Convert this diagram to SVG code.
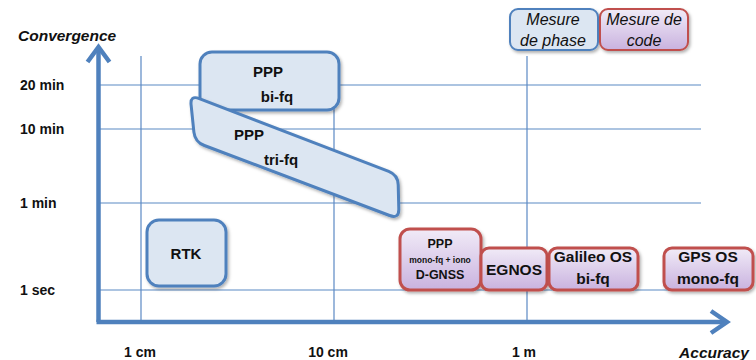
<svg xmlns="http://www.w3.org/2000/svg" width="756" height="360" viewBox="0 0 756 360">
<defs>
<linearGradient id="purp" x1="0" y1="0" x2="0" y2="1">
<stop offset="0" stop-color="#f1ebf7"/>
<stop offset="1" stop-color="#c9b2df"/>
</linearGradient>
<filter id="sh" x="-10%" y="-10%" width="130%" height="130%">
<feDropShadow dx="1.5" dy="2" stdDeviation="1.5" flood-color="#000" flood-opacity="0.3"/>
</filter>
</defs>
<style>
.grid{stroke:#5b89c4;stroke-width:1.2;fill:none}
.axis{stroke:#4f81bd;stroke-width:4.5;fill:none;stroke-linecap:butt}
.head{stroke:#4f81bd;stroke-width:4.5;fill:none;stroke-linejoin:miter}
.lbl{font-family:"Liberation Sans",Arial,sans-serif;font-weight:bold;font-size:14px;fill:#111}
.ttl{font-family:"Liberation Sans",Arial,sans-serif;font-weight:bold;font-style:italic;font-size:15.5px;fill:#111}
.blue{fill:#dce6f2;stroke:#4f81bd;stroke-width:3;filter:url(#sh)}
.red{fill:url(#purp);stroke:#c0504d;stroke-width:3;filter:url(#sh)}
.t{font-family:"Liberation Sans",Arial,sans-serif;font-weight:bold;font-size:15px;fill:#111;text-anchor:middle}
.leg{font-family:"Liberation Sans",Arial,sans-serif;font-style:italic;font-size:16px;fill:#111;text-anchor:middle}
</style>
<rect width="756" height="360" fill="#fff"/>
<g id="grid">
<line class="grid" x1="100" y1="85" x2="701" y2="85"/>
<line class="grid" x1="100" y1="129" x2="701" y2="129"/>
<line class="grid" x1="100" y1="203" x2="701" y2="203"/>
<line class="grid" x1="100" y1="290" x2="701" y2="290"/>
<line class="grid" x1="141" y1="56" x2="141" y2="320"/>
<line class="grid" x1="334" y1="56" x2="334" y2="320"/>
<line class="grid" x1="527" y1="56" x2="527" y2="320"/>
</g>
<g id="connectors">
<path class="axis" d="M98.5,322 V48"/>
<path class="head" d="M87.5,62 L98.5,47 L109.5,62"/>
<path class="axis" d="M96.5,322 H726"/>
<path class="head" d="M711,311 L727,322 L711,333"/>
</g>
<g id="labels">
<text class="ttl" x="18" y="41">Convergence</text>
<text class="lbl" x="20" y="90">20 min</text>
<text class="lbl" x="20" y="134">10 min</text>
<text class="lbl" x="20" y="208">1 min</text>
<text class="lbl" x="20" y="295">1 sec</text>
<text class="lbl" x="140" y="357" text-anchor="middle">1 cm</text>
<text class="lbl" x="328" y="357" text-anchor="middle">10 cm</text>
<text class="lbl" x="524" y="357" text-anchor="middle">1 m</text>
<text class="ttl" x="714" y="358" text-anchor="middle">Accuracy</text>
</g>
<g id="ppp-bifq">
<rect class="blue" x="200" y="52" width="139" height="58" rx="12"/>
<text class="t" x="268" y="77">PPP</text>
<text class="t" x="277" y="102">bi-fq</text>
</g>
<g id="ppp-trifq">
<path class="blue" d="M199.3,98.6 L388.7,171.4 Q398,175 398.2,185 L398.8,209 Q399,219 389.6,215.5 L204.4,145.5 Q195,142 193.9,132.1 L191.1,104.9 Q190,95 199.3,98.6 Z"/>
<text class="t" x="249" y="140">PPP</text>
<text class="t" x="281" y="165">tri-fq</text>
</g>
<g id="rtk">
<rect class="blue" x="147" y="220" width="79" height="66" rx="12"/>
<text class="t" x="186" y="259">RTK</text>
</g>
<g id="ppp-mono">
<rect class="red" x="400" y="229" width="81" height="61" rx="10"/>
<text class="t" x="440" y="248" style="font-size:12.5px">PPP</text>
<text class="t" x="440" y="263" style="font-size:8.5px">mono-fq + iono</text>
<text class="t" x="440" y="279" style="font-size:12.5px">D-GNSS</text>
</g>
<g id="egnos">
<rect class="red" x="481" y="248" width="66" height="42" rx="8"/>
<text class="t" x="514" y="275" style="font-size:15.5px">EGNOS</text>
</g>
<g id="galileo">
<rect class="red" x="549" y="248" width="89" height="42" rx="8"/>
<text class="t" x="593" y="262" style="font-size:15.5px">Galileo OS</text>
<text class="t" x="593" y="284" style="font-size:15.5px">bi-fq</text>
</g>
<g id="gps">
<rect class="red" x="664" y="248" width="89" height="42" rx="8"/>
<text class="t" x="708" y="262" style="font-size:15.5px">GPS OS</text>
<text class="t" x="708" y="284" style="font-size:15.5px">mono-fq</text>
</g>
<g id="legend-phase">
<rect class="blue" x="510" y="9" width="88" height="41" rx="8" style="stroke-width:2"/>
<text class="leg" x="553" y="25">Mesure</text>
<text class="leg" x="553" y="46">de phase</text>
</g>
<g id="legend-code">
<rect class="red" x="600" y="9" width="88" height="41" rx="8" style="stroke-width:2"/>
<text class="leg" x="644" y="25">Mesure de</text>
<text class="leg" x="644" y="46">code</text>
</g>
</svg>
